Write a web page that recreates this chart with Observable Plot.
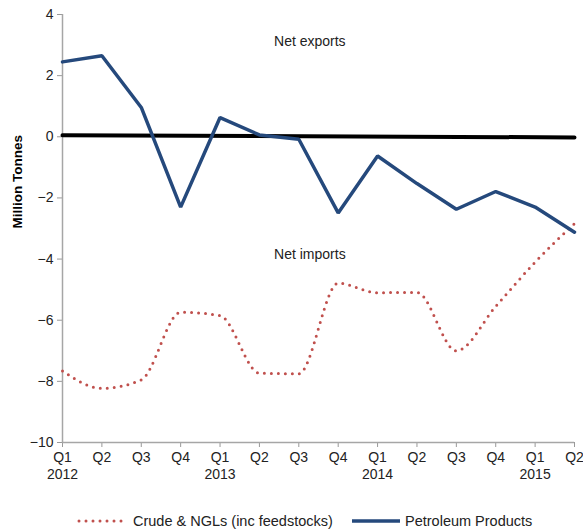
<!DOCTYPE html>
<html><head><meta charset="utf-8">
<script src="https://cdn.jsdelivr.net/npm/d3@7"></script>
<script src="https://cdn.jsdelivr.net/npm/@observablehq/plot@0.6"></script>
<style>
body{margin:0;background:#fff;font-family:"Liberation Sans",Arial,sans-serif}
#legend{position:relative;height:36px;width:583px;font-size:14.5px;color:#222}
#legend .item{position:absolute;top:18px;display:flex;align-items:center}
</style>
</head><body><div id="chart"></div><div id="legend"></div><script>
const quarters = ["Q1","Q2","Q3","Q4","Q1","Q2","Q3","Q4","Q1","Q2","Q3","Q4","Q1","Q2"];
const years = ["2012","","","","2013","","","","2014","","","","2015",""];
const crude = [-7.66,-8.23,-7.95,-5.74,-5.85,-7.73,-7.75,-4.79,-5.1,-5.09,-7.0,-5.55,-4.1,-2.84];
const petroleum = [2.45,2.65,0.96,-2.3,0.63,0.06,-0.08,-2.49,-0.63,-1.53,-2.37,-1.79,-2.3,-3.12];
const zeroLine = [0.05,-0.02];
const yTicks = [4,2,0,-2,-4,-6,-8,-10];
const notes = [{label:"Net exports", i:6.28, v:3.1},{label:"Net imports", i:6.28, v:-3.85}];

const idx = d3.range(quarters.length);
const crudeData = idx.map(i => ({i, v: crude[i]}));
const petData = idx.map(i => ({i, v: petroleum[i]}));
const zeroData = [{i:0, v:zeroLine[0]},{i:quarters.length-1, v:zeroLine[1]}];

const chart = Plot.plot({
  width: 583, height: 495,
  marginLeft: 62, marginRight: 9, marginTop: 14, marginBottom: 53,
  style: {fontFamily: '"Liberation Sans", Arial, sans-serif', fontSize: "14px", color: "#222", background: "#fff"},
  x: {type: "linear", domain: [0, quarters.length-1], axis: null},
  y: {domain: [-10, 4], axis: null},
  marks: [
    Plot.axisY({ticks: yTicks, tickSize: 5, tickPadding: 4, stroke: "#999", label: null, fontSize: 14}),
    Plot.axisX({ticks: idx, tickSize: 5, tickPadding: 3, stroke: "#999", label: null,
      tickFormat: i => quarters[i] + (years[i] ? "\n" + years[i] : ""), fontSize: 14, lineHeight: 1.2}),
    Plot.ruleX([0], {stroke: "#a6a6a6", strokeWidth: 1.5}),
    Plot.ruleY([-10], {stroke: "#a6a6a6", strokeWidth: 1.5}),
    Plot.line(zeroData, {x: "i", y: "v", stroke: "#000", strokeWidth: 4}),
    Plot.line(crudeData, {x: "i", y: "v", stroke: "#c0504d", strokeWidth: 3, strokeDasharray: "0,7", strokeLinecap: "round", curve: "monotone-x"}),
    Plot.line(petData, {x: "i", y: "v", stroke: "#25497c", strokeWidth: 3.5, strokeLinejoin: "miter"}),
    Plot.text(notes, {x: "i", y: "v", text: "label", fontSize: 14, fill: "#222"}),
    Plot.text(["Million Tonnes"], {frameAnchor: "left", dx: -45, rotate: -90, fontWeight: "bold", fontSize: 13.5, fill: "#000"})
  ]
});
document.getElementById("chart").append(chart);

const legend = document.getElementById("legend");
legend.innerHTML = `
<div class="item" style="left:76px"><svg width="52" height="10"><line x1="3" y1="5" x2="50" y2="5" stroke="#c0504d" stroke-width="3" stroke-dasharray="0,7" stroke-linecap="round"/></svg><span style="margin-left:5px">Crude &amp; NGLs (inc feedstocks)</span></div>
<div class="item" style="left:350px"><svg width="52" height="10"><line x1="2" y1="5" x2="50" y2="5" stroke="#25497c" stroke-width="3.5"/></svg><span style="margin-left:3px">Petroleum Products</span></div>`;
</script></body></html>
